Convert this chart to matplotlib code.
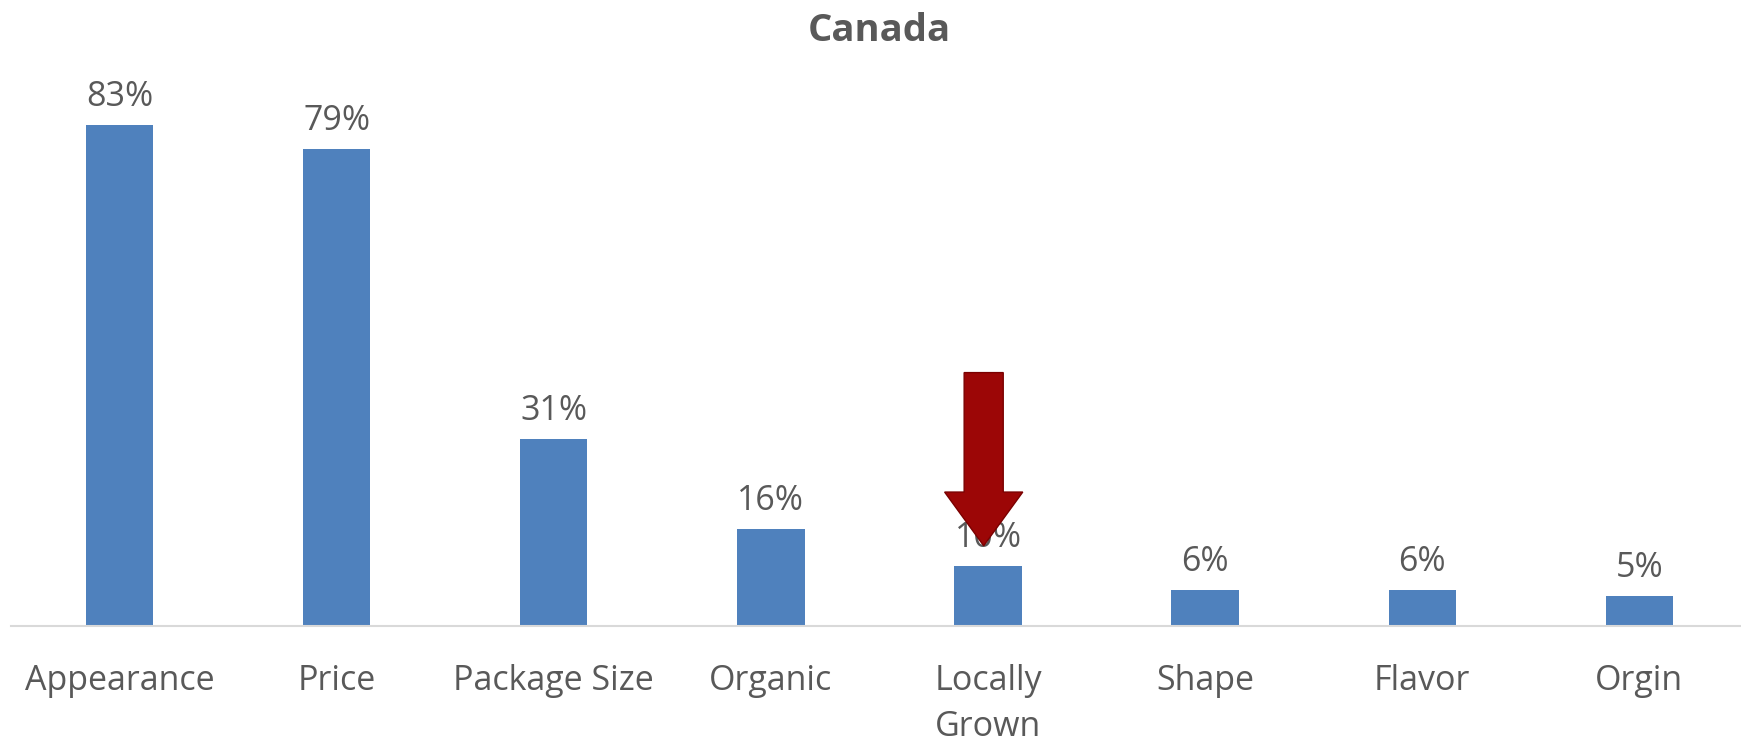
import matplotlib
matplotlib.use("Agg")
import matplotlib.pyplot as plt
from matplotlib.patches import Polygon

categories = ["Appearance", "Price", "Package Size", "Organic", "Locally\nGrown",
              "Shape", "Flavor", "Orgin"]
values = [83, 79, 31, 16, 10, 6, 6, 5]
value_labels = ["83%", "79%", "31%", "16%", "10%", "6%", "6%", "5%"]
title = "Canada"
highlight = "Locally\nGrown"

BAR = "#4F81BD"
TEXT = "#595959"
AXIS = "#D9D9D9"
ARROW = "#9C0606"

plt.rcParams["font.family"] = ["Open Sans", "DejaVu Sans"]

fig = plt.figure(figsize=(17.41, 7.45), dpi=100)
ax = fig.add_axes([11 / 1741, (745 - 626) / 745, 1 - 11 / 1741, 543 / 745])

x = list(range(len(categories)))
ax.bar(x, values, width=0.31, color=BAR, zorder=2)
ax.set_xlim(-0.5, 7.468)
ax.set_ylim(0, 90)

for xi, v, lab in zip(x, values, value_labels):
    ax.annotate(lab, (xi, v), xytext=(0, 8), textcoords="offset points",
                ha="center", va="bottom", fontsize=24.5, color=TEXT, zorder=3)

ax.set_xticks(x)
ax.set_xticklabels(categories, fontsize=24.5, color=TEXT, linespacing=1.5)
ax.tick_params(axis="x", length=0, pad=27)
ax.set_yticks([])
for side in ("top", "left", "right"):
    ax.spines[side].set_visible(False)
ax.spines["bottom"].set_color(AXIS)
ax.spines["bottom"].set_linewidth(1.5)

# Down arrow pointing at the highlighted category
hx = categories.index(highlight) - 0.02
shaft, head = 0.09, 0.18
top, neck, tip = 42.0, 22.2, 13.3
arrow = Polygon([(hx - shaft, top), (hx + shaft, top), (hx + shaft, neck),
                 (hx + head, neck), (hx, tip), (hx - head, neck),
                 (hx - shaft, neck)], closed=True, facecolor=ARROW,
                edgecolor="#7A0000", linewidth=1.0, zorder=4)
ax.add_patch(arrow)

fig.text(0.505, 1 - 31 / 745, title, ha="center", va="center",
         fontsize=27.5, fontweight="bold", color=TEXT)

fig.savefig("out.png", dpi=100, facecolor="white")
